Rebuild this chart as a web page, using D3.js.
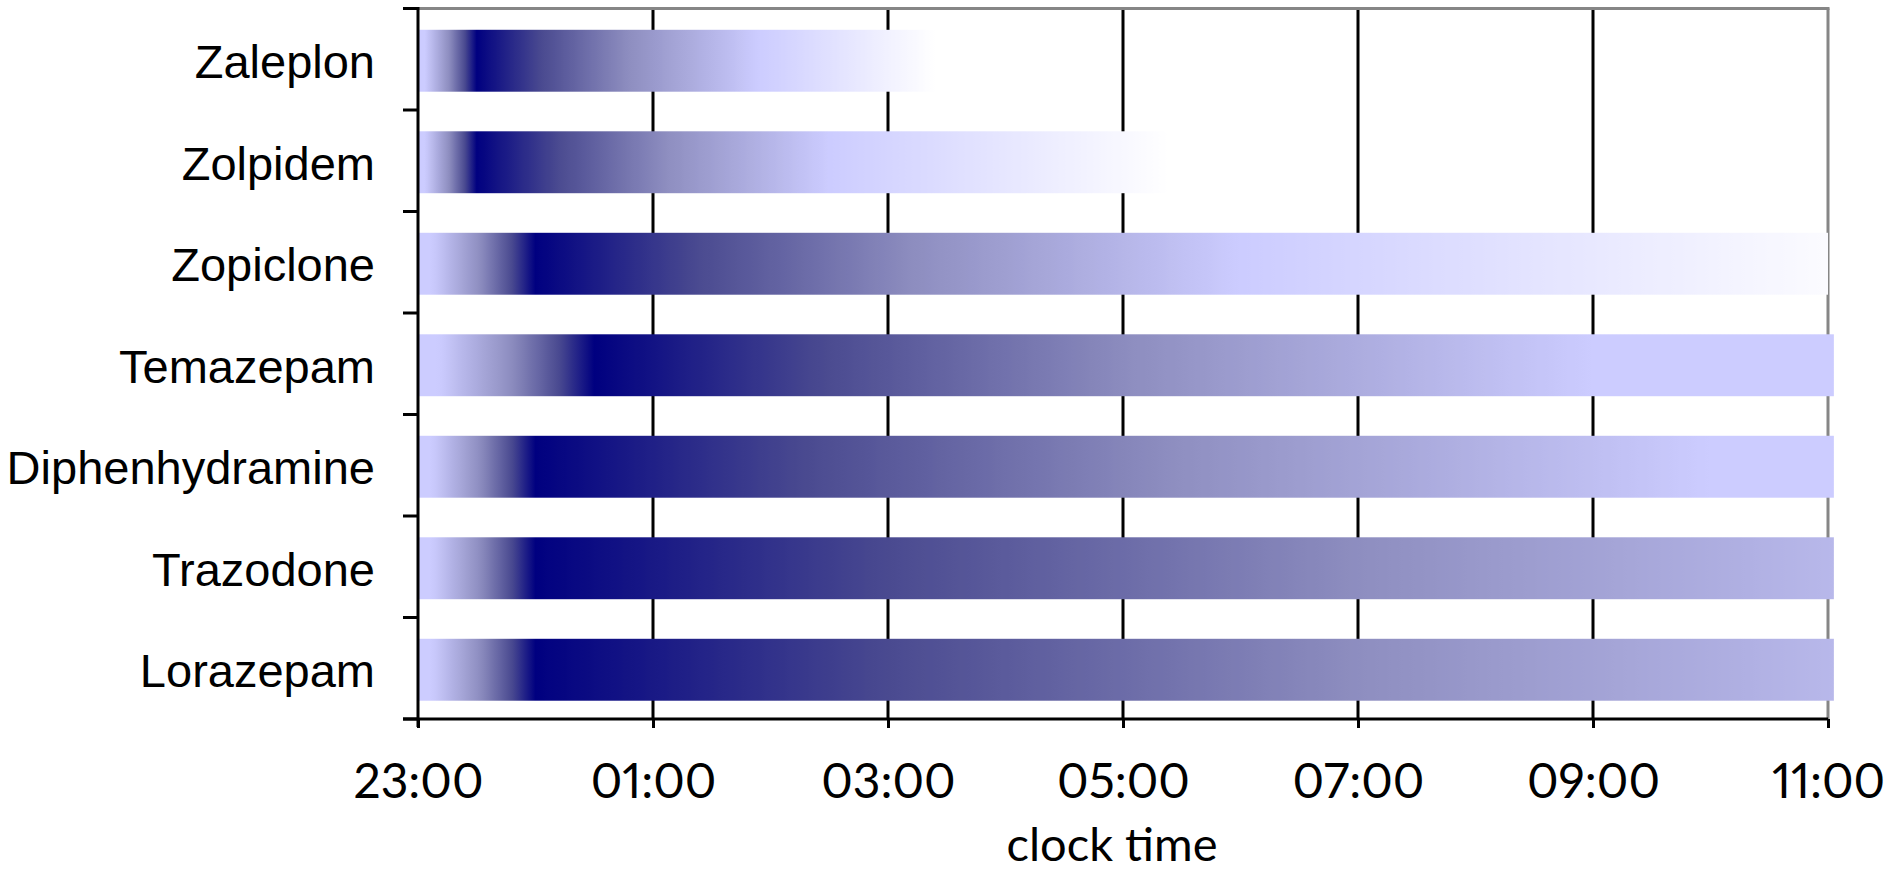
<!DOCTYPE html>
<html>
<head>
<meta charset="utf-8">
<script src="https://cdn.jsdelivr.net/npm/d3@7"></script>
<style>
  html, body { margin: 0; padding: 0; background: #ffffff; }
  svg { display: block; }
  .xt { font-variant-numeric: proportional-nums; font-feature-settings: "pnum" 1; }
</style>
</head>
<body>
<svg id="chart" width="1893" height="870"></svg>
<script>
// ---- data (hours after 23:00) ----
const drugs = ["Zaleplon", "Zolpidem", "Zopiclone", "Temazepam", "Diphenhydramine", "Trazodone", "Lorazepam"];
const onsetHours = [0.5, 0.5, 1.0, 1.5, 1.0, 1.0, 1.0];          // darkest point (peak effect)
const lavenderHours = [2.9, 3.5, 7.0, 10.0, 11.0, 14.0, 14.0];   // effect decayed to light
const whiteHours = [4.4, 6.4, 12.4, null, null, null, null];      // effect gone
const endHours = [4.4, 6.4, 12.0, 12.05, 12.05, 12.05, 12.05];
const tickLabels = ["23:00", "01:00", "03:00", "05:00", "07:00", "09:00", "11:00"];
const tickHours = [0, 2, 4, 6, 8, 10, 12];
const axisTitle = "clock time";

const svg = d3.select("#chart");
const pLeft = 418, pRight = 1828, pTop = 8.5, pBottom = 719;

const x = d3.scaleLinear().domain([0, 12]).range([pLeft, pRight]);
const y = d3.scaleBand().domain(drugs).range([pTop, pBottom]).paddingInner(0.39).paddingOuter(0.195);

const LAV = "#ccccff";
const decay = d3.scaleLinear()
  .domain([0, 0.23, 0.54, 1])
  .range(["#000080", "#4a4a90", "#8e8ec0", LAV])
  .interpolate(d3.interpolateRgb)
  .clamp(true);
const fade = d3.interpolateRgb(LAV, "#ffffff");

function colorAt(i, h) {
  const on = onsetHours[i], lav = lavenderHours[i], wh = whiteHours[i];
  if (h <= 0.12 * on) return LAV;
  if (h < on) return decay((on - h) / (0.88 * on));
  if (h <= lav) return decay((h - on) / (lav - on));
  if (wh != null) return fade(Math.min(1, (h - lav) / (wh - lav)));
  return LAV;
}

const defs = svg.append("defs");
drugs.forEach((d, i) => {
  const g = defs.append("linearGradient")
    .attr("id", "grad" + i)
    .attr("gradientUnits", "userSpaceOnUse")
    .attr("x1", x(0)).attr("x2", x(endHours[i]))
    .attr("y1", 0).attr("y2", 0);
  const n = 240;
  const offs = [];
  for (let k = 0; k <= n; k++) offs.push(k / n);
  offs.push(onsetHours[i] / endHours[i]);
  offs.sort((a, b) => a - b);
  offs.forEach(o => {
    g.append("stop").attr("offset", o).attr("stop-color", colorAt(i, o * endHours[i]));
  });
});

// gridlines (behind bars)
svg.append("g").selectAll("line").data(tickHours.slice(1, -1)).join("line")
  .attr("x1", d => x(d)).attr("x2", d => x(d))
  .attr("y1", pTop).attr("y2", pBottom)
  .attr("stroke", "#000").attr("stroke-width", 3);

// top and right frame
svg.append("line").attr("x1", pLeft).attr("x2", pRight + 1.5).attr("y1", pTop).attr("y2", pTop)
  .attr("stroke", "#868686").attr("stroke-width", 3);
svg.append("line").attr("x1", pRight).attr("x2", pRight).attr("y1", pTop).attr("y2", pBottom)
  .attr("stroke", "#868686").attr("stroke-width", 3);

// bars
svg.append("g").selectAll("rect").data(drugs).join("rect")
  .attr("x", x(0))
  .attr("y", d => y(d) + 1.5)
  .attr("width", (d, i) => x(endHours[i]) - x(0))
  .attr("height", y.bandwidth())
  .attr("fill", (d, i) => "url(#grad" + i + ")");

// x axis
const xAxis = d3.axisBottom(x).tickValues(tickHours).tickSize(9).tickFormat((d, i) => tickLabels[i]);
const gx = svg.append("g").attr("transform", `translate(0,${pBottom})`).call(xAxis);
gx.select(".domain").attr("stroke", "#000").attr("stroke-width", 3).attr("d", `M${pLeft - 15},0H${pRight}`);
gx.selectAll(".tick line").attr("stroke", "#000").attr("stroke-width", 3);
gx.selectAll(".tick text")
  .attr("class", "xt")
  .attr("y", 79).attr("dy", 0)
  .attr("font-family", "Lato, 'Open Sans', sans-serif")
  .attr("font-size", 48).attr("fill", "#000");

// y axis (ticks at category boundaries)
svg.append("line").attr("x1", pLeft).attr("x2", pLeft).attr("y1", pTop - 1.5).attr("y2", pBottom + 8)
  .attr("stroke", "#000").attr("stroke-width", 3);
const boundaries = drugs.map(d => y(d) - y.step() * y.paddingInner() / 2).concat([pBottom]);
boundaries[0] = pTop;
svg.append("g").selectAll("line").data(boundaries).join("line")
  .attr("x1", pLeft - 15).attr("x2", pLeft)
  .attr("y1", d => d).attr("y2", d => d)
  .attr("stroke", "#000").attr("stroke-width", 3);

svg.append("g").selectAll("text").data(drugs).join("text")
  .attr("x", 375)
  .attr("y", d => y(d) + y.bandwidth() / 2 + 19)
  .attr("text-anchor", "end")
  .attr("font-family", "'Liberation Sans', Arial, sans-serif")
  .attr("font-size", 47)
  .attr("fill", "#000")
  .text(d => d);

// axis title
svg.append("text")
  .attr("x", 1112).attr("y", 861)
  .attr("text-anchor", "middle")
  .attr("font-family", "Lato, 'Open Sans', sans-serif")
  .attr("font-size", 47)
  .attr("fill", "#000")
  .text(axisTitle);
</script>
</body>
</html>
